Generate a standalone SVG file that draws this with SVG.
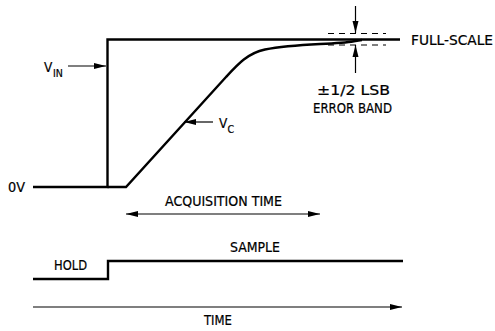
<svg xmlns="http://www.w3.org/2000/svg" width="495" height="331" viewBox="0 0 495 331">
<style>
.thick{fill:none;stroke:#000;stroke-width:2.4;stroke-linejoin:miter}
.thin{fill:none;stroke:#000;stroke-width:1.2}
.dash{fill:none;stroke:#000;stroke-width:1.2;stroke-dasharray:6,5}
text{font-family:"DejaVu Sans Condensed","Liberation Sans",sans-serif;font-size:13.5px;fill:#000;stroke:#000;stroke-width:0.2}
.sub{font-size:10.5px}
</style>
<defs>
<marker id="ah" markerWidth="12" markerHeight="8" refX="12" refY="4" orient="auto-start-reverse" markerUnits="userSpaceOnUse">
<path d="M0,1 L12,4 L0,7 Z" fill="#000"/>
</marker>
</defs>
<rect width="495" height="331" fill="#fff"/>
<g id="vin-signal">
<path class="thick" d="M33,187 H107.5 V39.5 H400"/>
</g>
<g id="vc-curve">
<path class="thick" d="M107.5,187 H126 L226,77 C238,64 248,53 265,49.5 C280,46.5 300,45 320,44 C335,43.3 348,42.3 354,41.2 C357,40.6 359,40.2 362,40"/>
</g>
<g id="error-band">
<path class="dash" d="M328,33.5 H386 M328,45 H386"/>
</g>
<g id="hold-sample">
<path class="thick" d="M33,279 H108 V261 H403"/>
</g>
<g id="connectors">
<line class="thin" x1="68" y1="66" x2="106" y2="66" marker-end="url(#ah)"/>
<line class="thin" x1="213" y1="122" x2="184" y2="122" marker-end="url(#ah)"/>
<line class="thin" x1="355.5" y1="6" x2="355.5" y2="33" marker-end="url(#ah)"/>
<line class="thin" x1="355.5" y1="73" x2="355.5" y2="45" marker-end="url(#ah)"/>
<line class="thin" x1="126" y1="214" x2="320" y2="214" marker-start="url(#ah)" marker-end="url(#ah)"/>
<line class="thin" x1="33" y1="307" x2="402" y2="307" marker-end="url(#ah)"/>
</g>
<g id="labels">
<text x="44" y="71.5">V</text><text class="sub" x="53" y="77">IN</text>
<text x="219" y="127.5">V</text><text class="sub" x="227.5" y="132.5">C</text>
<text x="8" y="192" textLength="17" lengthAdjust="spacingAndGlyphs">0V</text>
<text x="411" y="45" textLength="82" lengthAdjust="spacingAndGlyphs">FULL-SCALE</text>
<text x="317" y="95" textLength="73" lengthAdjust="spacingAndGlyphs">±1/2 LSB</text>
<text x="313" y="113" textLength="79" lengthAdjust="spacingAndGlyphs">ERROR BAND</text>
<text x="165" y="206" textLength="117" lengthAdjust="spacingAndGlyphs">ACQUISITION TIME</text>
<text x="230" y="252" textLength="50" lengthAdjust="spacingAndGlyphs">SAMPLE</text>
<text x="54" y="270" textLength="33" lengthAdjust="spacingAndGlyphs">HOLD</text>
<text x="204" y="325" textLength="28" lengthAdjust="spacingAndGlyphs">TIME</text>
</g>
</svg>
